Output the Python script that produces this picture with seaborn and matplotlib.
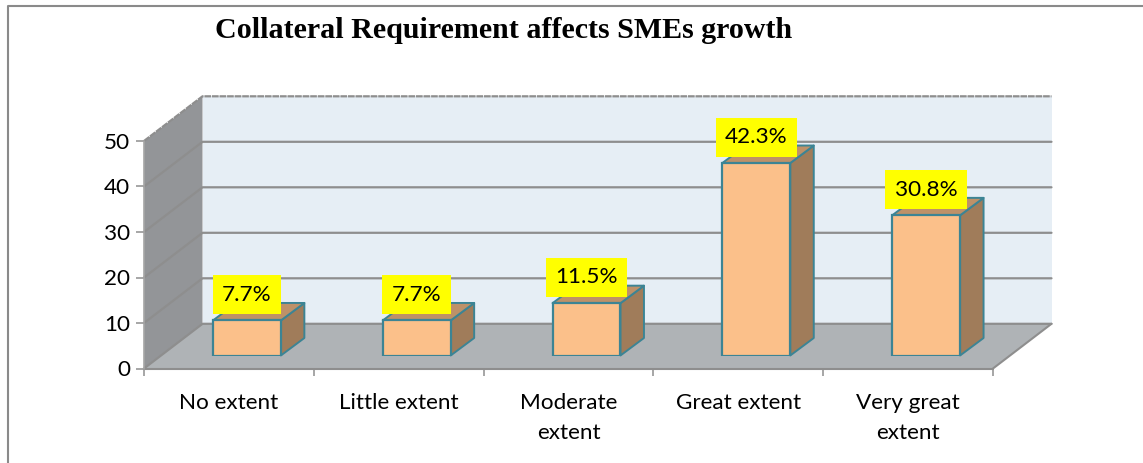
import matplotlib
matplotlib.use("Agg")
import matplotlib.pyplot as plt
from matplotlib.lines import Line2D
import pandas as pd
import seaborn as sns

categories = ["No extent", "Little extent", "Moderate\nextent", "Great extent", "Very great\nextent"]
percent = [7.7, 7.7, 11.5, 42.3, 30.8]
y_ticks = [0, 10, 20, 30, 40, 50]

W, H = 1143, 463
GRID = "#8e8e8e"
EDGE = "#3c8494"

sns.set_theme(style="white")
plt.rcParams["font.family"] = ["Lato", "DejaVu Sans"]

df = pd.DataFrame({"category": categories, "percent": percent})

fig = plt.figure(figsize=(W / 100, H / 100), dpi=100, facecolor="white")

def px_axes(x0, x1, y_bottom, y_top):
    return fig.add_axes([x0 / W, 1 - y_bottom / H, (x1 - x0) / W, (y_bottom - y_top) / H])

# front plane of the 3d box, holds ticks and labels
ax = px_axes(144, 993, 368.5, 141)
ax.patch.set_alpha(0)
ax.set_xlim(-0.5, 4.5)
ax.set_ylim(0, 50)

# wall depth in data units
dx, dy = 58.5 / 169.8, 44.7 / 4.55
x0, x1 = -0.5, 4.5
ax.fill([x0 + dx, x1 + dx, x1 + dx, x0 + dx], [dy, dy, 50 + dy, 50 + dy], color="#e6eef5", clip_on=False, zorder=1, lw=0)
ax.fill([x0, x0 + dx, x0 + dx, x0], [0, dy, 50 + dy, 50], color="#939598", clip_on=False, zorder=1, lw=0)
ax.fill([x0, x1, x1 + dx, x0 + dx], [0, 0, dy, dy], color="#afb3b6", clip_on=False, zorder=1, lw=0)
for v in y_ticks:
    ax.plot([x0, x0 + dx, x1 + dx], [v, v + dy, v + dy], color=GRID, lw=1.6, clip_on=False, zorder=2,
            ls=(0, (3, 0.4)) if v == 50 else "-")
ax.plot([x1, x1 + dx], [0, dy], color=GRID, lw=1.5, clip_on=False, zorder=2)
ax.plot([x0, x1], [0, 0], color=GRID, lw=1.5, clip_on=False, zorder=2)
ax.plot([x0, x0], [0, 50], color="#a6a6a6", lw=1.2, clip_on=False, zorder=2)

for s in ax.spines.values():
    s.set_visible(False)
ax.set_yticks(y_ticks)
ax.set_xticks([i - 0.5 for i in range(6)])
ax.set_xticklabels([])
ax.set_xticks(range(5), labels=categories, minor=True)
ax.tick_params(axis="y", left=True, length=6, width=1.1, color=GRID, labelsize=16.2, pad=4, labelcolor="black")
ax.tick_params(axis="x", which="major", bottom=True, length=5, width=1.1, color=GRID)
ax.tick_params(axis="x", which="minor", bottom=False, labelsize=16.2, pad=13.5, labelcolor="black")
for t in ax.get_xticklabels(minor=True):
    t.set_linespacing(1.65)

# bars sit part way into the box, so they get their own shifted axes
bx = px_axes(162, 1011, 355.5, 128)
bx.patch.set_alpha(0)
sns.barplot(data=df, x="category", y="percent", ax=bx, width=0.4, color="#fbc08a", saturation=1,
            edgecolor=EDGE, linewidth=1.6, zorder=4)
bx.set_xlim(-0.5, 4.5)
bx.set_ylim(0, 50)
bx.axis("off")

bdx, bdy = 23.5 / 169.8, 17.5 / 4.55
for bar, val in zip(bx.patches, percent):
    l, r, h = bar.get_x(), bar.get_x() + bar.get_width(), bar.get_height()
    bx.fill([r, r + bdx, r + bdx, r], [0, bdy, h + bdy, h], facecolor="#a07c5a", edgecolor=EDGE, lw=1.4,
            clip_on=False, zorder=3, joinstyle="round")
    bx.fill([l, r, r + bdx, l + bdx], [h, h, h + bdy, h + bdy], facecolor="#be9168", edgecolor=EDGE, lw=1.4,
            clip_on=False, zorder=3, joinstyle="round")
    bx.annotate(f"{val}%", (l + bar.get_width() / 2, h), xytext=(0, 20), textcoords="offset points",
                ha="center", va="center_baseline", fontsize=16.2, color="black", zorder=6, annotation_clip=False,
                bbox=dict(boxstyle="square,pad=0.42", fc="#ffff00", ec="none"))

fig.text(503.5 / W, 1 - 30.5 / H, "Collateral Requirement affects SMEs growth", ha="center", va="center",
         fontsize=21.6, fontweight="bold", family="Liberation Serif", color="black")

# chart area border runs off the image on the right and bottom
fig.add_artist(Line2D([8 / W, 8 / W, 1], [0, 1 - 6 / H, 1 - 6 / H], color="#8a8a8a", lw=1.5))

fig.savefig("out.png", dpi=100)
